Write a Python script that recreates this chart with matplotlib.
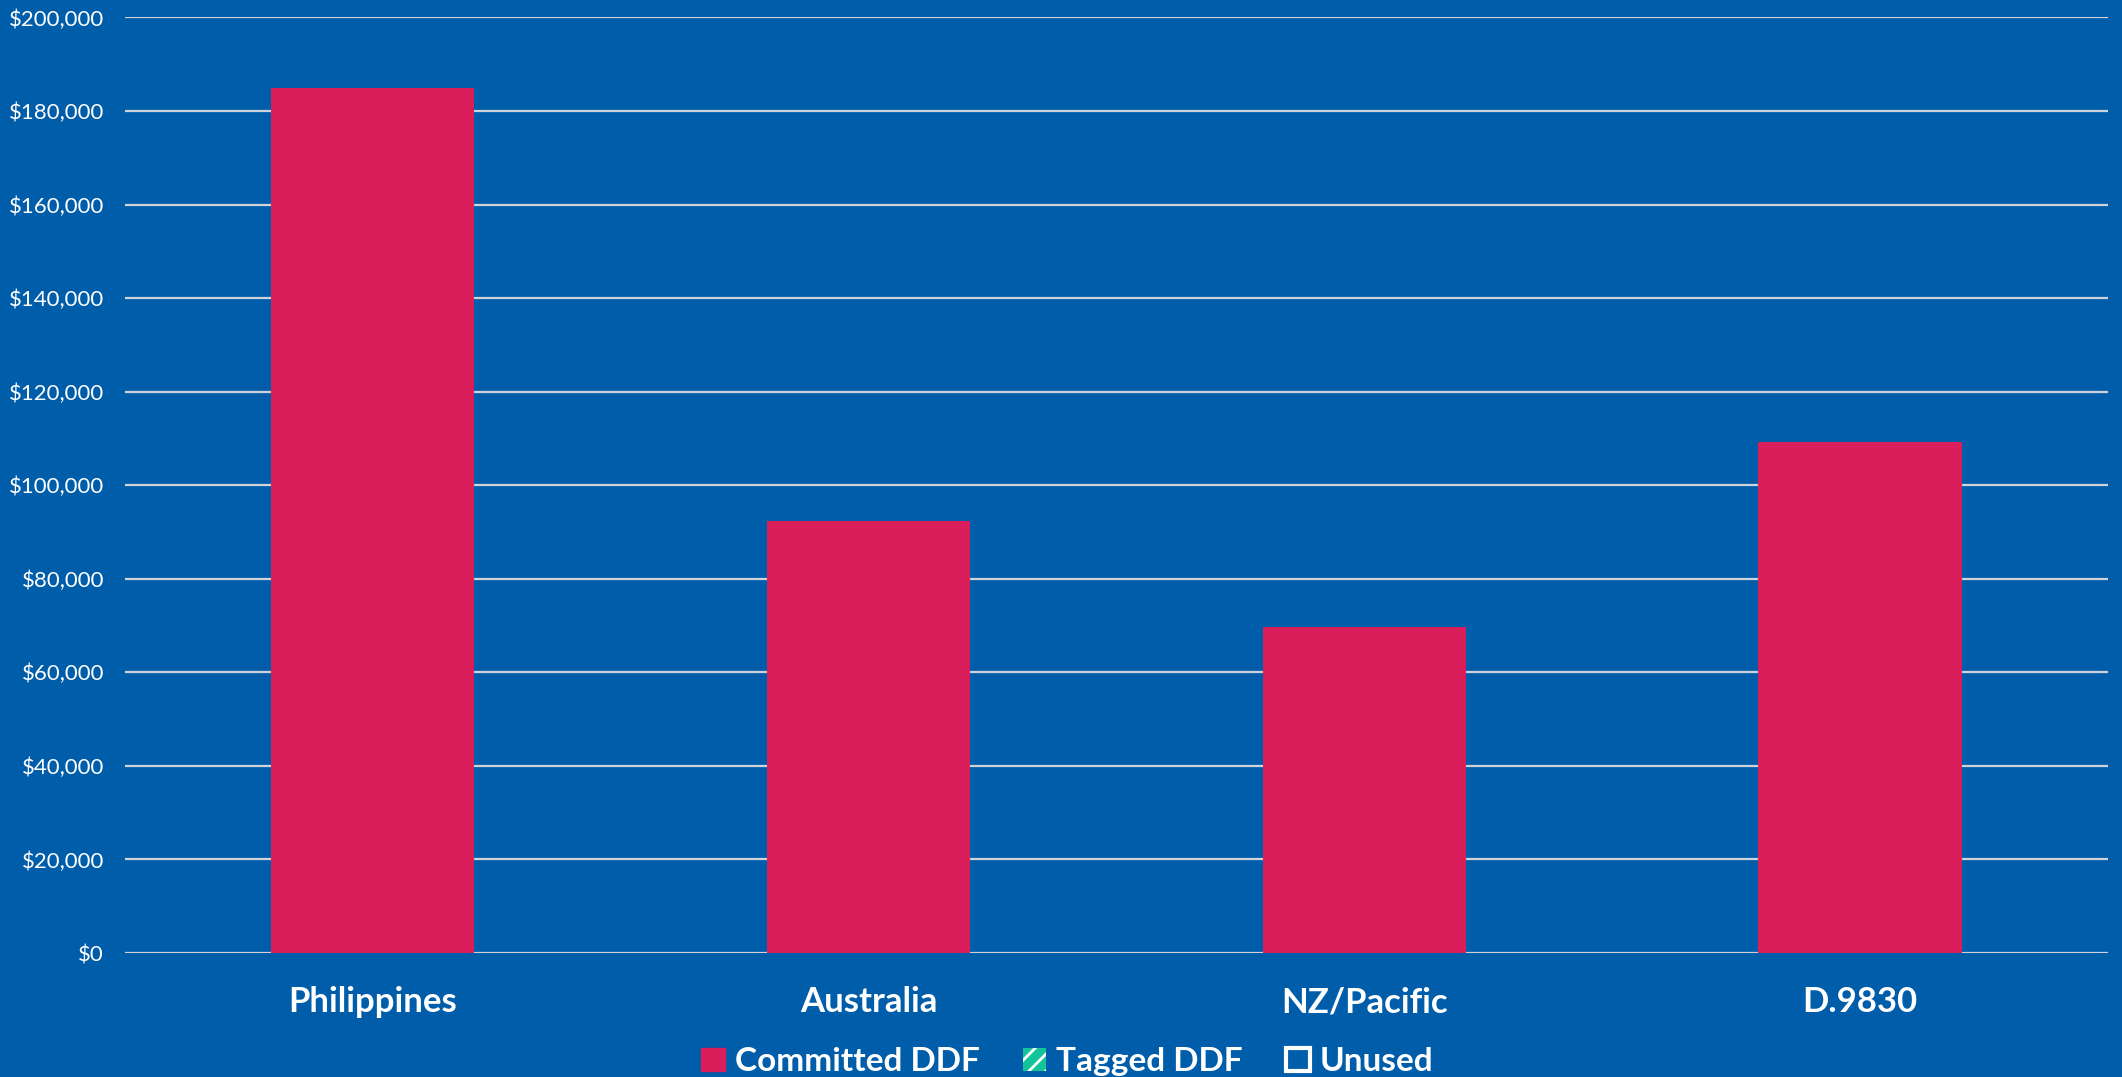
import matplotlib.pyplot as plt
from matplotlib.patches import Patch
from matplotlib.ticker import FuncFormatter
import numpy as np

# data
regions = ["Philippines", "Australia", "NZ/Pacific", "D.9830"]
committed = [185000, 92300, 69600, 109200]
tagged = [0, 0, 0, 0]
unused = [0, 0, 0, 0]

bg = "#005DAA"
red = "#D91E5B"
green = "#13C49A"
grid_col = "#D0D4DA"

plt.rcParams['font.family'] = ['Lato', 'DejaVu Sans']
plt.rcParams['hatch.color'] = 'white'
plt.rcParams['hatch.linewidth'] = 2.0

fig = plt.figure(figsize=(21.22, 10.77), dpi=100, facecolor=bg)
ax = fig.add_axes([0.0589, 0.1151, 0.9345, 0.8687], facecolor=bg)

x = np.arange(len(regions))
w = 0.41
ax.bar(x, committed, w, color=red, linewidth=0, zorder=3)
ax.bar(x, tagged, w, bottom=committed, color=green, hatch='/', edgecolor='white',
       linewidth=0, zorder=3)
bot2 = np.array(committed) + np.array(tagged)
ax.bar(x, unused, w, bottom=bot2, facecolor='none', edgecolor='white',
       linewidth=[2 if u > 0 else 0 for u in unused], zorder=3)

ax.set_xlim(-0.5, len(regions) - 0.5)
ax.set_ylim(0, 200000)
ax.set_yticks(np.arange(0, 200001, 20000))
ax.yaxis.set_major_formatter(FuncFormatter(lambda v, p: "${:,.0f}".format(v)))
ax.grid(axis='y', color=grid_col, linewidth=1.6, zorder=0)
for s in ax.spines.values():
    s.set_visible(False)

ax.tick_params(axis='y', length=0, pad=15, labelsize=16, labelcolor='white')
ax.set_xticks(x)
ax.set_xticklabels(regions, fontsize=25, fontweight='bold', color='white')
ax.tick_params(axis='x', length=0, pad=24)

handles = [
    Patch(facecolor=red, edgecolor=red, label="Committed DDF"),
    Patch(facecolor=green, edgecolor='white', linewidth=0, hatch='//', label="Tagged DDF"),
    Patch(facecolor='none', edgecolor='white', linewidth=3, label="Unused"),
]
leg = fig.legend(handles=handles, loc='lower center', bbox_to_anchor=(0.503, -0.027),
                 ncol=3, frameon=False, fontsize=24, handlelength=0.7, handleheight=0.7,
                 handletextpad=0.3, columnspacing=1.3)
for t in leg.get_texts():
    t.set_color('white')
    t.set_fontweight('bold')

fig.savefig("out.png", dpi=100, facecolor=bg)
